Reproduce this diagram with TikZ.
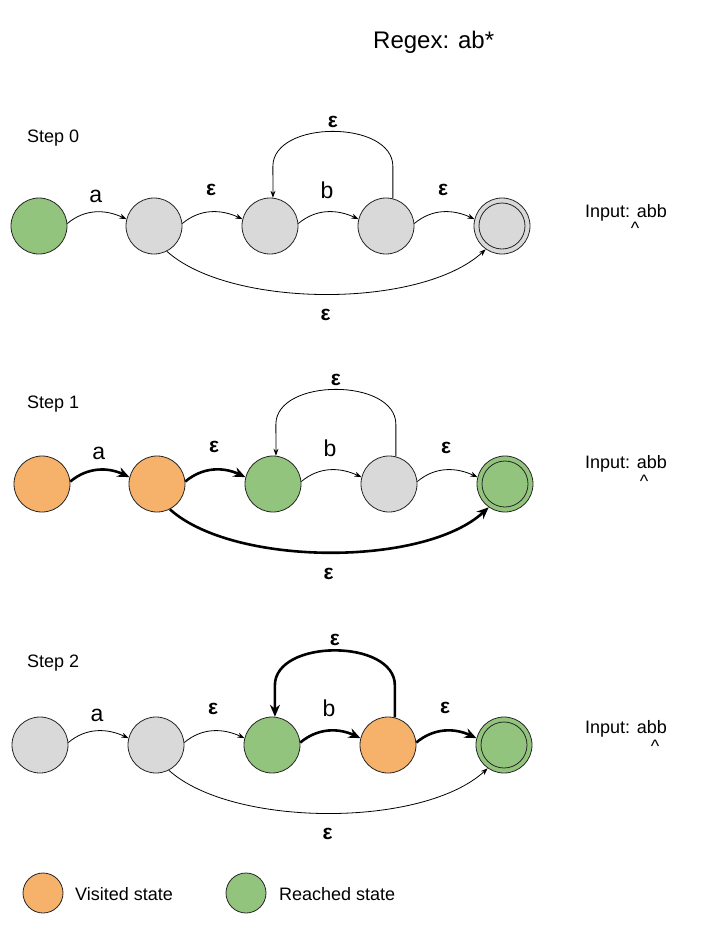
\documentclass[tikz,border=0pt]{standalone}
\usepackage{fontspec}
\setmainfont{Liberation Sans}
\usetikzlibrary{arrows.meta}
\definecolor{visited}{HTML}{F6B26B}
\definecolor{reached}{HTML}{93C47D}
\definecolor{idle}{HTML}{D9D9D9}

\begin{document}
\begin{tikzpicture}[x=1pt, y=1pt,
		state/.style={circle, draw=black!85, line width=0.8pt, minimum size=56pt, inner sep=0pt},
		key/.style={circle, draw=black!85, line width=0.8pt, minimum size=40pt, inner sep=0pt},
		move/.style={line width=0.8pt, -{Stealth[length=7pt, width=5pt]}},
		taken/.style={line width=2.6pt, -{Stealth[length=12pt, width=10pt]}},
		sym/.style={above=#1, inner sep=0pt, font=\fontsize{23}{26}\selectfont},
		eps/.style={above=#1, inner sep=0pt, font=\fontsize{21}{24}\selectfont\bfseries},
		epsb/.style={below=#1, inner sep=0pt, font=\fontsize{21}{24}\selectfont\bfseries},
		note/.style={inner sep=0pt, font=\fontsize{18}{21}\selectfont}]
		%%%%% START %%%%%
		
		\fill[white] (0, 0) rectangle (707, -937);
		
		\node[inner sep=0pt, anchor=base west, font=\fontsize{24}{28}\selectfont] (title) at (373, -48) {Regex: ab*};
		
		%% step 0
		\node[note, anchor=west] (step0) at (27, -138) {Step 0};
		\node[state, fill=reached] (s0a) at (39, -226) {};
		\node[state, fill=idle] (s0b) at (154, -226) {};
		\node[state, fill=idle] (s0c) at (270, -226) {};
		\node[state, fill=idle] (s0d) at (386, -226) {};
		\node[state, fill=idle] (s0e) at (502, -226) {};
		\draw[line width=0.8pt, color=black!85] (s0e.center) circle (23);
		
		\draw[move] (s0a.5) to[out=40, in=155] node[sym=9pt] (l0a) {a} (s0b.166);
		\draw[move] (s0b.5) to[out=40, in=155] node[eps=16pt] (l0b) {ε} (s0c.166);
		\draw[move] (s0c.5) to[out=40, in=155] node[sym=13pt] (l0c) {b} (s0d.166);
		\draw[move] (s0d.5) to[out=40, in=155] node[eps=16pt] (l0d) {ε} (s0e.166);
		\draw[move] (s0d.76) -- ++(0, 32) to[out=90, in=90] node[eps=3pt] (l0e) {ε} ++(-120, 0) -- (s0c.84);
		\draw[move] (s0b.-63) .. controls +(63, -57) and +(-65, -60) .. (s0e.-125) node[midway, epsb=15pt] (l0f) {ε};
		
		\node[note, anchor=base west] (in0) at (585, -217) {Input: abb};
		\node[note, anchor=north] (ptr0) at (635, -222) {\textasciicircum};
		
		%% step 1
		\node[note, anchor=west] (step1) at (27, -404) {Step 1};
		\node[state, fill=visited] (s1a) at (42, -484) {};
		\node[state, fill=visited] (s1b) at (157, -484) {};
		\node[state, fill=reached] (s1c) at (273, -484) {};
		\node[state, fill=idle] (s1d) at (389, -484) {};
		\node[state, fill=reached] (s1e) at (505, -484) {};
		\draw[line width=0.8pt, color=black!85] (s1e.center) circle (23);
		
		\draw[taken] (s1a.5) to[out=40, in=155] node[sym=9pt] (l1a) {a} (s1b.166);
		\draw[taken] (s1b.5) to[out=40, in=155] node[eps=16pt] (l1b) {ε} (s1c.166);
		\draw[move] (s1c.5) to[out=40, in=155] node[sym=13pt] (l1c) {b} (s1d.166);
		\draw[move] (s1d.5) to[out=40, in=155] node[eps=16pt] (l1d) {ε} (s1e.166);
		\draw[move] (s1d.76) -- ++(0, 32) to[out=90, in=90] node[eps=3pt] (l1e) {ε} ++(-120, 0) -- (s1c.84);
		\draw[taken] (s1b.-63) .. controls +(63, -57) and +(-65, -60) .. (s1e.-125) node[midway, epsb=15pt] (l1f) {ε};
		
		\node[note, anchor=base west] (in1) at (585, -468) {Input: abb};
		\node[note, anchor=north] (ptr1) at (644, -475) {\textasciicircum};
		
		%% step 2
		\node[note, anchor=west] (step2) at (27, -663) {Step 2};
		\node[state, fill=idle] (s2a) at (40, -745) {};
		\node[state, fill=idle] (s2b) at (156, -745) {};
		\node[state, fill=reached] (s2c) at (272, -745) {};
		\node[state, fill=visited] (s2d) at (388, -745) {};
		\node[state, fill=reached] (s2e) at (504, -745) {};
		\draw[line width=0.8pt, color=black!85] (s2e.center) circle (23);
		
		\draw[move] (s2a.5) to[out=40, in=155] node[sym=9pt] (l2a) {a} (s2b.166);
		\draw[move] (s2b.5) to[out=40, in=155] node[eps=16pt] (l2b) {ε} (s2c.166);
		\draw[taken] (s2c.5) to[out=40, in=155] node[sym=13pt] (l2c) {b} (s2d.166);
		\draw[taken] (s2d.5) to[out=40, in=155] node[eps=16pt] (l2d) {ε} (s2e.166);
		\draw[taken] (s2d.76) -- ++(0, 32) to[out=90, in=90] node[eps=3pt] (l2e) {ε} ++(-120, 0) -- (s2c.84);
		\draw[move] (s2b.-63) .. controls +(63, -57) and +(-65, -60) .. (s2e.-125) node[midway, epsb=15pt] (l2f) {ε};
		
		\node[note, anchor=base west] (in2) at (585, -733) {Input: abb};
		\node[note, anchor=north] (ptr2) at (655, -740) {\textasciicircum};
		
		%% legend
		\node[key, fill=visited] (kv) at (43, -893) {};
		\node[note, anchor=west] (kvt) at (75, -894) {Visited state};
		\node[key, fill=reached] (kr) at (246, -893) {};
		\node[note, anchor=west] (krt) at (279, -894) {Reached state};
		
		%%%%% END %%%%%
	\end{tikzpicture}
\end{document}
